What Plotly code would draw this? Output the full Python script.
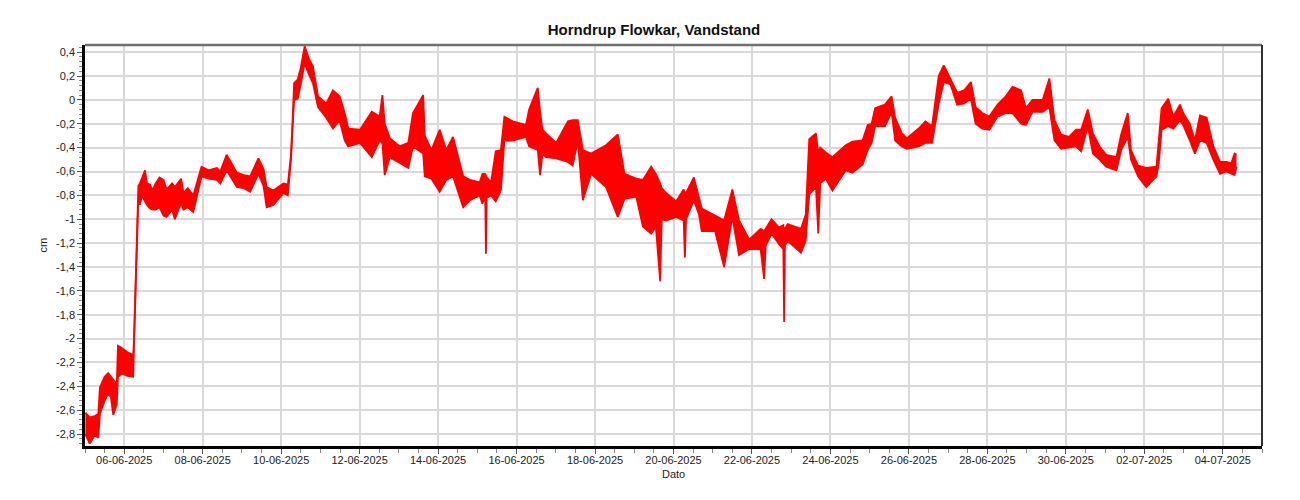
import pandas as pd
import plotly.graph_objects as go

# Time in days since 2025-06-05 00:00, with lower/upper envelope of the water level (cm)
day_offsets = [
    0.01, 0.12, 0.25, 0.34, 0.38, 0.50, 0.59, 0.66, 0.72, 0.81, 0.84, 0.95, 1.06, 1.23,
    1.25, 1.27, 1.30, 1.33, 1.36, 1.40, 1.45, 1.53, 1.58, 1.66, 1.72, 1.80, 1.90, 2.00,
    2.08, 2.15, 2.22, 2.29, 2.40, 2.45, 2.51, 2.62,
    2.76, 2.85, 2.97, 3.15, 3.36, 3.45, 3.61, 3.87, 4.05, 4.21, 4.42, 4.55, 4.63, 4.80,
    5.06, 5.17, 5.25, 5.29, 5.33, 5.42, 5.50, 5.60, 5.70, 5.81, 5.94, 6.15, 6.32, 6.49,
    6.62, 6.71, 7.01, 7.31, 7.51, 7.58, 7.64, 7.77, 8.02, 8.24, 8.36, 8.62, 8.66, 8.83,
    9.04, 9.21, 9.38, 9.64, 9.81, 10.06, 10.13, 10.20, 10.22, 10.24, 10.35, 10.47, 10.60,
    10.69, 10.90, 11.24, 11.32, 11.54, 11.60, 11.66, 11.75, 12.01, 12.31, 12.43, 12.56,
    12.69, 12.90, 13.28, 13.58, 13.75, 14.05, 14.22, 14.43, 14.55, 14.66, 14.70, 14.81,
    15.07, 15.26, 15.29, 15.32, 15.52, 15.65, 15.72, 16.06, 16.29, 16.50, 16.67, 16.93,
    17.22, 17.31, 17.35, 17.50, 17.69, 17.80, 17.82, 17.84, 17.91, 18.25, 18.37, 18.46,
    18.63, 18.69, 18.74, 18.88, 19.05, 19.39, 19.56, 19.82, 19.95, 20.05, 20.14, 20.39,
    20.56, 20.65, 20.82, 20.95, 21.25, 21.42, 21.59, 21.76, 21.89, 22.06, 22.23, 22.41,
    22.58, 22.70, 22.87, 23.05, 23.26, 23.47, 23.64, 23.86, 23.98, 24.15, 24.41, 24.58,
    24.71, 24.88, 25.08, 25.26, 25.39, 25.56, 25.69, 25.86, 26.03, 26.29, 26.41, 26.58,
    26.66, 26.84, 27.05, 27.31, 27.37, 27.44, 27.61, 27.74, 27.91, 27.99, 28.16, 28.29,
    28.42, 28.59, 28.76, 28.93, 29.09, 29.22, 29.30, 29.35,
]

level_high = [
    -2.62, -2.66, -2.65, -2.63, -2.41, -2.32, -2.29, -2.32, -2.34, -2.38, -2.06, -2.08, -2.11, -2.14,
    -2.00, -1.78, -1.39, -1.02, -0.72, -0.70, -0.66, -0.59, -0.70, -0.71, -0.76, -0.70, -0.65, -0.67,
    -0.75, -0.72, -0.70, -0.73, -0.68, -0.66, -0.78, -0.74,
    -0.80, -0.70, -0.56, -0.59, -0.57, -0.60, -0.46, -0.61, -0.63, -0.64, -0.49, -0.58, -0.73, -0.76,
    -0.70, -0.71, -0.46, -0.18, 0.14, 0.17, 0.27, 0.45, 0.35, 0.28, 0.03, -0.03, 0.08, 0.03,
    -0.11, -0.24, -0.25, -0.10, -0.14, 0.04, -0.20, -0.32, -0.39, -0.36, -0.11, 0.04, -0.30, -0.42,
    -0.25, -0.42, -0.31, -0.64, -0.67, -0.69, -0.62, -0.62, -0.64, -0.65, -0.69, -0.43, -0.42,
    -0.14, -0.18, -0.21, -0.08, 0.10, -0.10, -0.25, -0.28, -0.36, -0.18, -0.17, -0.17,
    -0.42, -0.45, -0.38, -0.29, -0.62, -0.66, -0.67, -0.56, -0.62, -0.70, -0.74, -0.78,
    -0.85, -0.75, -0.78, -0.78, -0.65, -0.82, -0.91, -0.97, -1.01, -0.75, -1.01, -1.17,
    -1.08, -1.10, -1.08, -1.00, -1.07, -1.05, -1.10, -1.08, -1.04, -1.08, -0.96, -0.33,
    -0.28, -0.45, -0.40, -0.44, -0.48, -0.38, -0.35, -0.34, -0.21, -0.20, -0.07, -0.04,
    0.03, -0.15, -0.28, -0.32, -0.24, -0.18, -0.22, 0.20, 0.29, 0.18, 0.06, 0.08,
    0.15, -0.06, -0.11, -0.14, -0.04, 0.03, 0.11, 0.08, -0.07, 0.00, 0.00, 0.18,
    -0.17, -0.29, -0.31, -0.25, -0.25, -0.08, -0.28, -0.39, -0.46, -0.48, -0.29, -0.11,
    -0.42, -0.55, -0.57, -0.56, -0.32, -0.07, 0.01, -0.14, -0.04, -0.11, -0.20, -0.34,
    -0.13, -0.15, -0.39, -0.52, -0.52, -0.53, -0.45, -0.46,
]

level_low = [
    -2.80, -2.88, -2.81, -2.83, -2.63, -2.52, -2.46, -2.49, -2.64, -2.55, -2.32, -2.29, -2.31, -2.32,
    -2.03, -1.82, -1.43, -1.06, -0.82, -0.88, -0.80, -0.85, -0.88, -0.91, -0.92, -0.92, -0.90, -0.97,
    -0.98, -0.95, -0.92, -1.00, -0.90, -0.86, -0.92, -0.90,
    -0.94, -0.80, -0.64, -0.66, -0.67, -0.70, -0.59, -0.73, -0.74, -0.77, -0.62, -0.72, -0.90, -0.88,
    -0.78, -0.80, -0.50, -0.24, 0.00, 0.01, 0.13, 0.31, 0.22, 0.14, -0.06, -0.15, -0.24, -0.17,
    -0.34, -0.39, -0.36, -0.48, -0.34, -0.36, -0.63, -0.48, -0.53, -0.57, -0.39, -0.45, -0.64, -0.66,
    -0.77, -0.67, -0.64, -0.90, -0.84, -0.80, -0.87, -0.80, -1.29, -0.82, -0.80, -0.85, -0.76,
    -0.34, -0.34, -0.31, -0.39, -0.42, -0.63, -0.45, -0.48, -0.49, -0.52, -0.55, -0.34,
    -0.84, -0.62, -0.73, -0.98, -0.83, -0.81, -1.06, -1.12, -1.06, -1.52, -1.00, -1.01,
    -0.98, -1.01, -1.32, -1.00, -0.84, -0.96, -1.10, -1.10, -1.40, -0.98, -1.30, -1.25,
    -1.25, -1.50, -1.22, -1.12, -1.21, -1.25, -1.86, -1.22, -1.18, -1.28, -1.18, -0.79,
    -0.73, -1.12, -0.70, -0.66, -0.76, -0.59, -0.61, -0.54, -0.42, -0.36, -0.22, -0.22,
    -0.10, -0.34, -0.39, -0.41, -0.39, -0.36, -0.36, -0.03, 0.15, 0.13, -0.04, -0.03,
    0.01, -0.20, -0.24, -0.25, -0.14, -0.11, -0.11, -0.20, -0.21, -0.10, -0.10, -0.06,
    -0.34, -0.41, -0.40, -0.39, -0.43, -0.22, -0.45, -0.50, -0.56, -0.59, -0.42, -0.31,
    -0.50, -0.64, -0.73, -0.64, -0.53, -0.25, -0.22, -0.24, -0.17, -0.21, -0.34, -0.45,
    -0.34, -0.36, -0.50, -0.62, -0.60, -0.62, -0.63, -0.56,
]

y_tick_values = [0.4, 0.2, 0, -0.2, -0.4, -0.6, -0.8, -1, -1.2, -1.4, -1.6, -1.8,
                 -2, -2.2, -2.4, -2.6, -2.8]
y_tick_labels = ["0,4", "0,2", "0", "-0,2", "-0,4", "-0,6", "-0,8", "-1", "-1,2", "-1,4",
                 "-1,6", "-1,8", "-2", "-2,2", "-2,4", "-2,6", "-2,8"]

start = pd.Timestamp("2025-06-05 00:00")
times = start + pd.to_timedelta(day_offsets, unit="D")

RED = "#ff0000"
fig = go.Figure()
fig.add_trace(go.Scatter(x=times, y=level_low, mode="lines",
                         line=dict(color=RED, width=1.8), hoverinfo="skip", showlegend=False))
fig.add_trace(go.Scatter(x=times, y=level_high, mode="lines", fill="tonexty",
                         fillcolor=RED, line=dict(color=RED, width=1.8),
                         showlegend=False, name="Vandstand"))

font_family = "Liberation Sans, Arial, sans-serif"
TXT = "#222222"
fig.update_layout(
    width=1292, height=492,
    paper_bgcolor="white", plot_bgcolor="white",
    margin=dict(l=77, r=38, t=37, b=54, autoexpand=False),
    font=dict(family=font_family, size=11, color=TXT),
    title=dict(text="<b>Horndrup Flowkar, Vandstand</b>", x=0.5, xanchor="center",
               y=0.955, yanchor="middle", yref="container",
               font=dict(size=15, color="#111111")),
    showlegend=False,
)
fig.update_xaxes(
    type="date", automargin=False,
    range=["2025-06-05 00:00", "2025-07-05 00:00"],
    tick0="2025-06-06", dtick=2 * 86400000, tickformat="%d-%m-%Y",
    showgrid=True, gridcolor="#d9d9d9", gridwidth=2,
    showline=True, linecolor="black", linewidth=2.5,
    ticks="outside", ticklen=5, tickcolor="#555555",
    ticklabelstandoff=-3,
    minor=dict(dtick=43200000, tick0="2025-06-05", ticks="outside", ticklen=4,
               tickcolor="#888888", showgrid=False),
    tickfont=dict(size=11, color=TXT),
    zeroline=False,
)
fig.update_yaxes(
    automargin=False,
    range=[-2.9, 0.46],
    tickmode="array", tickvals=y_tick_values, ticktext=y_tick_labels,
    showgrid=True, gridcolor="#d9d9d9", gridwidth=2,
    showline=True, linecolor="black", linewidth=2.5,
    ticks="outside", ticklen=5, tickcolor="#555555",
    minor=dict(dtick=0.04, ticks="outside", ticklen=3, tickcolor="#888888", showgrid=False),
    tickfont=dict(size=11, color=TXT),
    zeroline=False,
)
# axis titles
fig.add_annotation(text="Dato", xref="paper", yref="paper", x=0.5, y=0,
                   xanchor="center", yanchor="middle", yshift=-28, showarrow=False,
                   font=dict(size=11, color=TXT))
fig.add_annotation(text="cm", xref="paper", yref="paper", x=0, y=0.5,
                   xanchor="center", yanchor="middle", xshift=-43, textangle=-90,
                   showarrow=False, font=dict(size=11, color=TXT))
# top and right frame of the plot area
fig.add_shape(type="line", xref="paper", yref="paper", x0=0, x1=1, y0=1, y1=1,
              line=dict(color="#707070", width=2.5))
fig.add_shape(type="line", xref="paper", yref="paper", x0=1, x1=1, y0=0, y1=1,
              line=dict(color="#303030", width=2))

fig.write_html("out.html")
